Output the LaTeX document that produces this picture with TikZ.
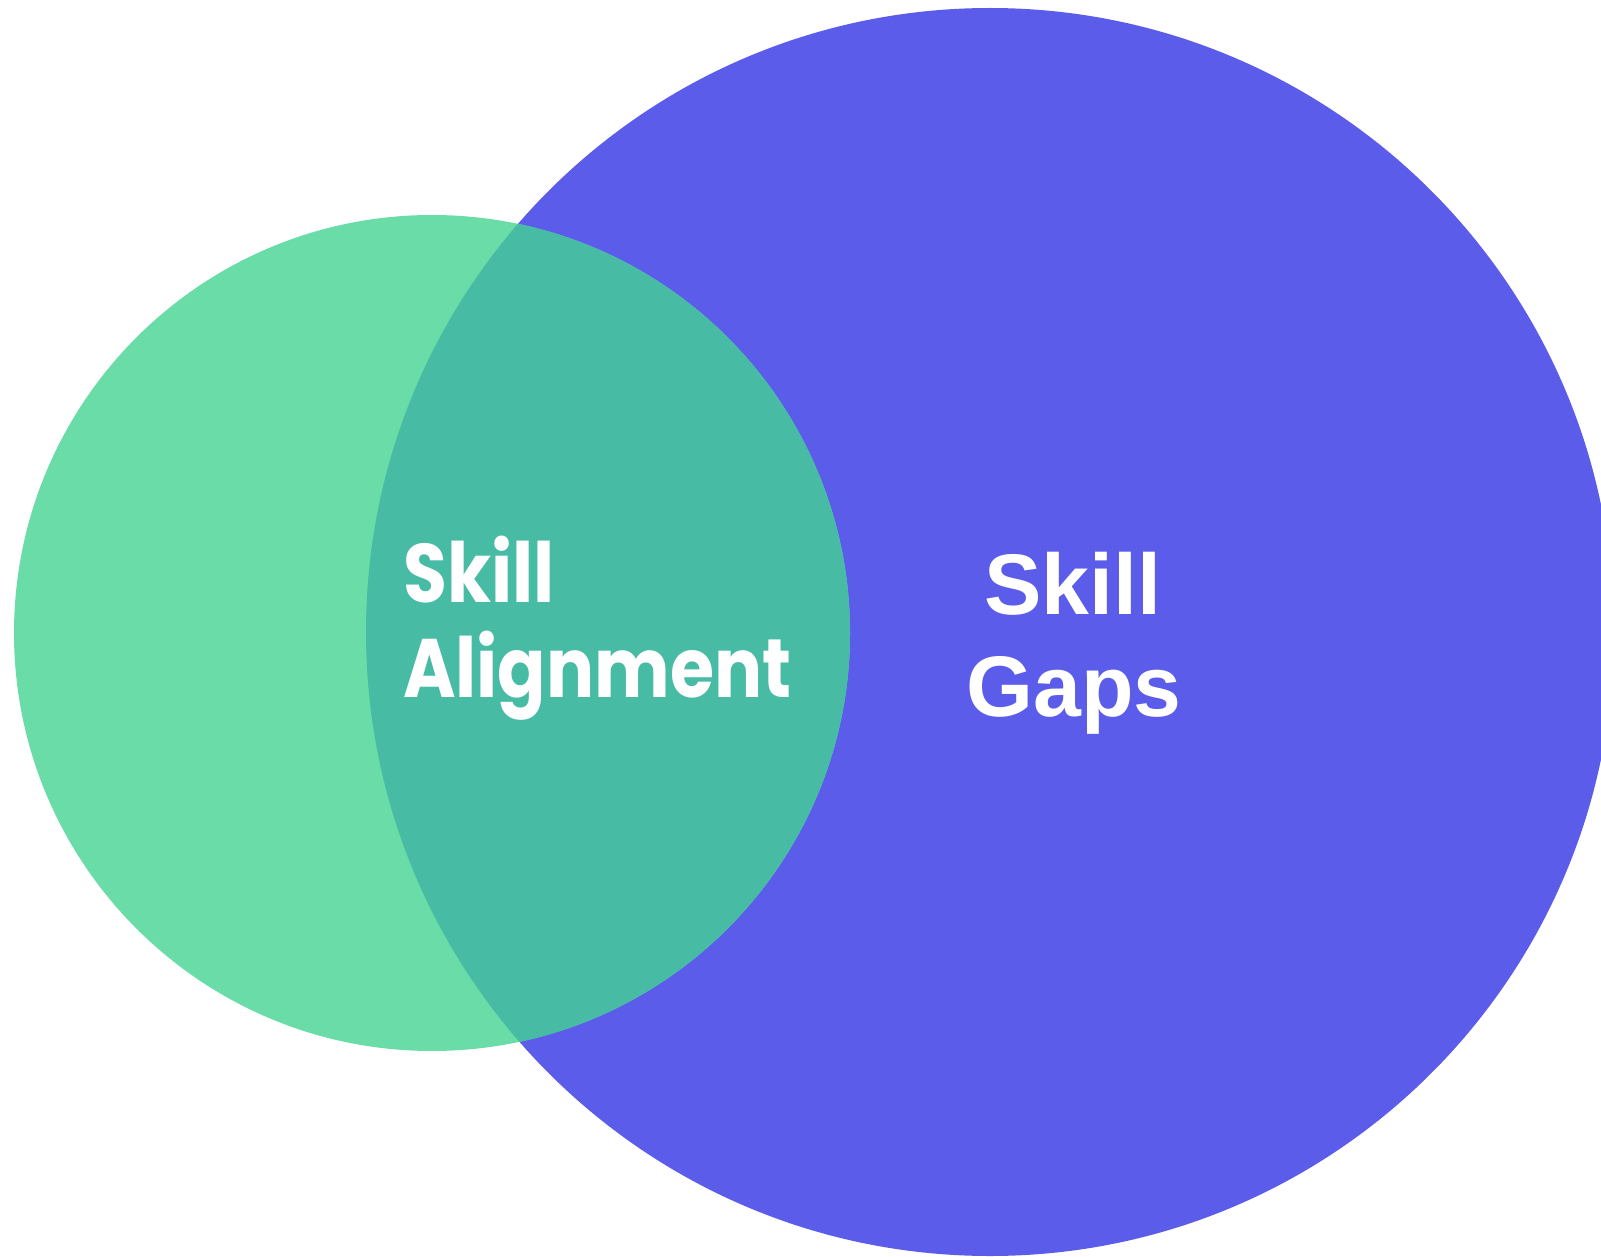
\documentclass[tikz,border=0pt]{standalone}
\usepackage{fontspec}
\newfontfamily\alignfont{Poppins}
\newfontfamily\gapsfont{Liberation Sans}
\usepackage{tikz}
\definecolor{myblue}{RGB}{92,92,235}
\definecolor{mygreen}{RGB}{105,220,168}
\definecolor{myoverlap}{RGB}{71,187,163}
\tikzset{
  setblob/.style={draw=none},
  alignlab/.style={text=white,inner sep=0pt,anchor=base west,xscale=0.86,font=\alignfont\bfseries\fontsize{83}{95}\selectfont},
  gapslab/.style={text=white,inner sep=0pt,anchor=base,font=\gapsfont\bfseries\fontsize{86}{100}\selectfont},
}
\begin{document}
\begin{tikzpicture}[x=1pt,y=-1pt]
  \useasboundingbox (0,0) rectangle (1601,1257);
  \begin{scope}
    \clip (0,0) rectangle (1601,1257);
    % the two sets
    \fill[setblob,myblue] (990,632) circle (624);
    \fill[setblob,mygreen] (432,633) circle (418);
    % shared part
    \begin{scope}
      \clip (990,632) circle (624);
      \fill[setblob,myoverlap] (432,633) circle (418);
    \end{scope}
  \end{scope}
  \node[alignlab] (skillA) at (403,602) {Skill};
  \node[alignlab] (alignA) at (403,697) {Alignment};
  \node[gapslab] (skillG) at (1073,614) {Skill};
  \node[gapslab] (gapsG) at (1074,716) {Gaps};
\end{tikzpicture}
\end{document}
